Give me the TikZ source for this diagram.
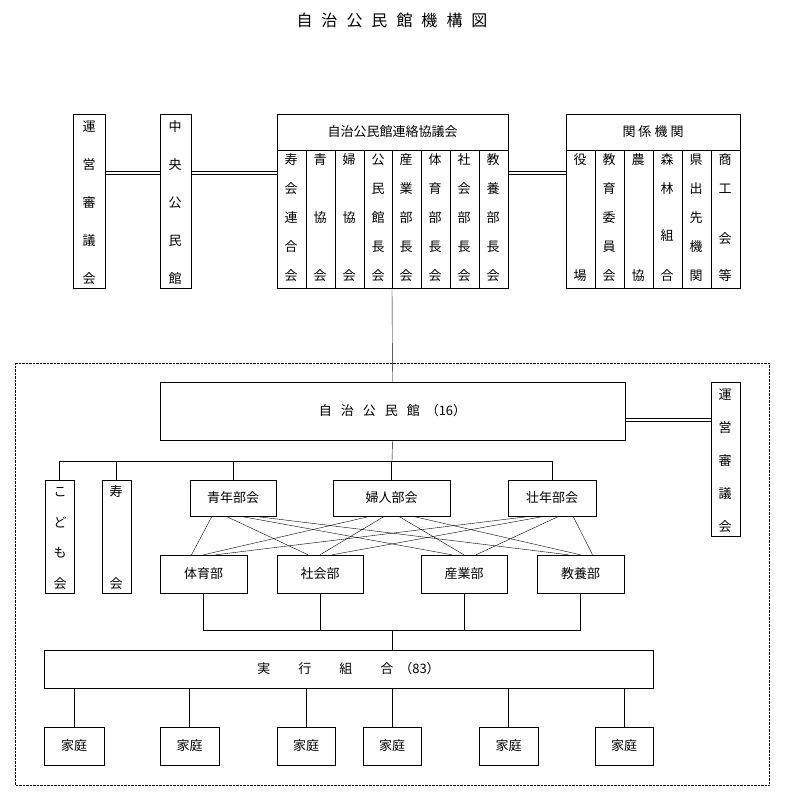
\documentclass[tikz,border=0pt]{standalone}
\usepackage{fontspec}
\setmainfont{Noto Sans CJK JP}
\begin{document}
\begin{tikzpicture}[x=1pt,y=-1pt,
	box/.style={draw, inner sep=0pt, font=\fontsize{13}{13}\selectfont},
	ch/.style={inner sep=0pt, font=\fontsize{13}{13}\selectfont}]
	\useasboundingbox (0,0) rectangle (785,803);

	\node[ch, font=\fontsize{16}{16}\selectfont] (title) at (392,20) {自\hspace{9pt}治\hspace{9pt}公\hspace{9pt}民\hspace{9pt}館\hspace{9pt}機\hspace{9pt}構\hspace{9pt}図};

	% upper row
	\node[box, minimum width=32, minimum height=174] (unei1) at (89,201) {};
	\node[box, minimum width=31, minimum height=174] (chuo) at (175.5,201) {};
	\foreach \x/\s in {89/{運/1,営/2,審/3,議/4,会/5}, 175/{中/1,央/2,公/3,民/4,館/5}} {
		\foreach \c/\k in \s {
			\node[ch] (u\x-\k) at (\x,{127+38*(\k-1)}) {\c};
		}
	}
	\draw (277,114) rectangle (508,288);
	\node[box, minimum width=231, minimum height=36] (renraku) at (392.5,132) {自治公民館連絡協議会};
	\foreach \x in {306,335,364,392,421,450,479} \draw (\x,150) -- (\x,288);
	\coordinate (kanchokai) at (392,288);
	\foreach \x/\s in {291/{寿/1,会/2,連/3,合/4,会/5}, 320/{青/1,協/3,会/5}, 349/{婦/1,協/3,会/5},
		378/{公/1,民/2,館/3,長/4,会/5}, 406/{産/1,業/2,部/3,長/4,会/5}, 435/{体/1,育/2,部/3,長/4,会/5},
		464/{社/1,会/2,部/3,長/4,会/5}, 493/{教/1,養/2,部/3,長/4,会/5}} {
		\foreach \c/\k in \s {
			\node[ch] (r\x-\k) at (\x,{131+29*\k}) {\c};
		}
	}
	\draw (566,114) rectangle (740,288);
	\node[box, minimum width=174, minimum height=36] (kankei) at (653,132) {関\hspace{3pt}係\hspace{3pt}機\hspace{3pt}関};
	\foreach \x in {595,624,653,682,711} \draw (\x,150) -- (\x,288);
	\foreach \x/\s in {580/{役/1,場/5}, 609/{教/1,育/2,委/3,員/4,会/5}, 638/{農/1,協/5},
		667/{森/1,林/2,組/3.6,合/5}, 696/{県/1,出/2,先/3,機/4,関/5}, 725/{商/1,工/2,会/3.7,等/5}} {
		\foreach \c/\k in \s {
			\node[ch] (k\x-\k) at (\x,{131+29*\k}) {\c};
		}
	}
	% double links
	\foreach \y in {171.5,174.5} {
		\draw (105,\y) -- (160,\y);
		\draw (191,\y) -- (277,\y);
		\draw (508,\y) -- (566,\y);
	}

	% dotted area
	\draw[densely dotted] (15,363) rectangle (769,785);
	\node[box, minimum width=465, minimum height=58] (jichi) at (392.5,411) {自\hspace{9pt}治\hspace{9pt}公\hspace{9pt}民\hspace{9pt}館\hspace{6pt}（16）};
	\draw (kanchokai) -- (jichi.north);
	\node[box, minimum width=29, minimum height=154] (unei2) at (725.5,459) {};
	\foreach \c/\k in {運/1,営/2,審/3,議/4,会/5} \node[ch] (v\k) at (725,{395+33*(\k-1)}) {\c};
	\foreach \y in {418.5,421.5} \draw (625,\y) -- (711,\y);

	\node[box, minimum width=29, minimum height=113] (kodomo) at (59.5,536.5) {};
	\foreach \c/\k in {こ/0,ど/1,も/2,会/3} \node[ch] (kd\k) at (60,{492+30.5*\k}) {\c};
	\node[box, minimum width=29, minimum height=113] (kotobuki) at (116.5,536.5) {};
	\node[ch] (kt1) at (116,492) {寿};
	\node[ch] (kt2) at (116,584) {会};

	\node[box, minimum width=86, minimum height=36] (seinen) at (233,498) {青年部会};
	\node[box, minimum width=117, minimum height=36] (fujin) at (391.5,498) {婦人部会};
	\node[box, minimum width=88, minimum height=36] (sonen) at (552,498) {壮年部会};
	\draw (jichi.south) -- (392,461);
	\draw (kodomo.north |- 0,461) -- (sonen.north |- 0,461);
	\foreach \n in {kodomo,kotobuki,seinen,fujin,sonen} \draw (\n.north |- 0,461) -- (\n.north);

	\node[box, minimum width=87, minimum height=38] (taiiku) at (203.5,574) {体育部};
	\node[box, minimum width=86, minimum height=38] (shakai) at (320,574) {社会部};
	\node[box, minimum width=86, minimum height=38] (sangyo) at (464,574) {産業部};
	\node[box, minimum width=87, minimum height=38] (kyoyo) at (580.5,574) {教養部};
	\foreach \b [count=\i] in {seinen,fujin,sonen}
		\foreach \d [count=\j] in {taiiku,shakai,sangyo,kyoyo}
			\draw ([xshift={(\j-2.5)*14}]\b.south) -- ([xshift={(\i-2)*12}]\d.north);

	\node[box, minimum width=609, minimum height=38] (jikko) at (348.5,669) {実\hspace{28pt}行\hspace{28pt}組\hspace{28pt}合\hspace{6pt}（83）};
	\draw (taiiku.south) -- (taiiku.south |- 0,630) -- (kyoyo.south |- 0,630) -- (kyoyo.south);
	\draw (shakai.south) -- (shakai.south |- 0,630);
	\draw (sangyo.south) -- (sangyo.south |- 0,630);
	\draw (392,630) -- (392,650);

	\foreach \x/\w [count=\i] in {74/60,189.5/59,306/58,392/58,508.5/59,624/58} {
		\node[box, minimum width=\w, minimum height=38] (katei\i) at (\x,746) {家庭};
		\draw (\x,688) -- (katei\i.north);
	}
\end{tikzpicture}
\end{document}
